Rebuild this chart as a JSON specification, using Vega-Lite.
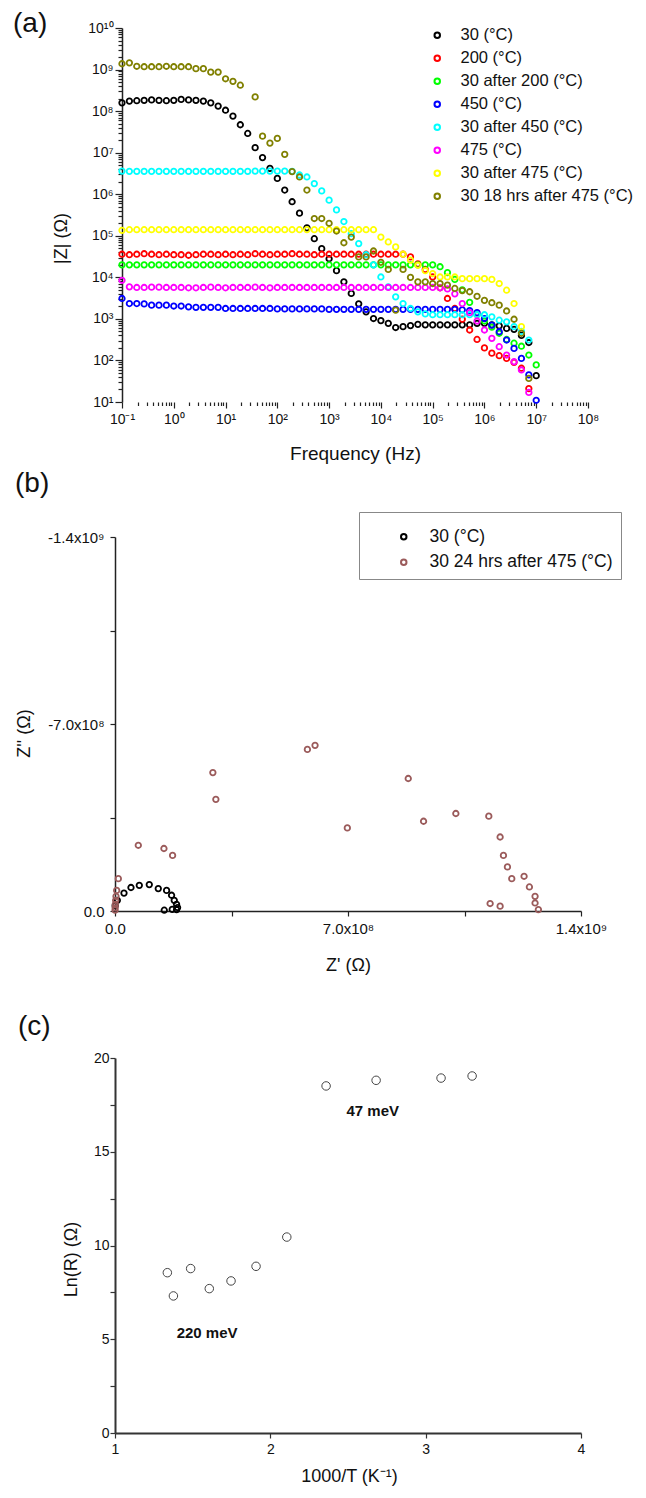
{
"$schema": "https://vega.github.io/schema/vega-lite/v6.json",
"background": "white",
"padding": {"left": 13, "top": 10, "right": 10, "bottom": 10},
"bounds": "flush",
"spacing": 0,
"config": {
  "view": {"stroke": null},
  "font": "Liberation Sans",
  "axis": {"grid": false, "domainColor": "#222", "tickColor": "#222", "labelColor": "#111", "titleColor": "#111", "labelFont": "Liberation Sans", "titleFont": "Liberation Sans", "titleFontWeight": "normal", "labelOverlap": false, "labelFlush": false, "domainWidth": 1.5, "tickWidth": 1.2}
},
"resolve": {"scale": {"color": "independent", "x": "independent", "y": "independent"}},
"datasets": {
"bode": [
{"f":0.1,"s30":1.58e8,"s200":3.6e4,"s30a200":2.0e4,"s450":3100,"s30a450":3.6e6,"s475":8500,"s30a475":1.35e5,"s30h18":1.38e9},
{"f":0.139,"s30":1.74e8,"s200":3.5e4,"s30a200":2.0e4,"s450":2340,"s30a450":3.55e6,"s475":5900,"s30a475":1.4e5,"s30h18":1.45e9},
{"f":0.193,"s30":1.78e8,"s200":3.6e4,"s30a200":2.0e4,"s450":2340,"s30a450":3.55e6,"s475":5700,"s30a475":1.4e5,"s30h18":1.2e9},
{"f":0.268,"s30":1.82e8,"s200":3.7e4,"s30a200":2.0e4,"s450":2290,"s30a450":3.55e6,"s475":5700,"s30a475":1.4e5,"s30h18":1.17e9},
{"f":0.373,"s30":1.86e8,"s200":3.6e4,"s30a200":2.0e4,"s450":2140,"s30a450":3.55e6,"s475":5800,"s30a475":1.4e5,"s30h18":1.17e9},
{"f":0.518,"s30":1.82e8,"s200":3.5e4,"s30a200":2.0e4,"s450":2140,"s30a450":3.55e6,"s475":5800,"s30a475":1.4e5,"s30h18":1.17e9},
{"f":0.72,"s30":1.78e8,"s200":3.6e4,"s30a200":2.0e4,"s450":2140,"s30a450":3.55e6,"s475":5700,"s30a475":1.4e5,"s30h18":1.2e9},
{"f":1,"s30":1.82e8,"s200":3.5e4,"s30a200":2.0e4,"s450":2040,"s30a450":3.55e6,"s475":5700,"s30a475":1.4e5,"s30h18":1.17e9},
{"f":1.39,"s30":1.91e8,"s200":3.5e4,"s30a200":2.0e4,"s450":2040,"s30a450":3.55e6,"s475":5700,"s30a475":1.4e5,"s30h18":1.17e9},
{"f":1.93,"s30":1.86e8,"s200":3.4e4,"s30a200":2.0e4,"s450":1950,"s30a450":3.55e6,"s475":5600,"s30a475":1.4e5,"s30h18":1.17e9},
{"f":2.68,"s30":1.82e8,"s200":3.5e4,"s30a200":2.0e4,"s450":1900,"s30a450":3.55e6,"s475":5600,"s30a475":1.4e5,"s30h18":1.05e9},
{"f":3.73,"s30":1.74e8,"s200":3.6e4,"s30a200":2.0e4,"s450":1900,"s30a450":3.55e6,"s475":5700,"s30a475":1.4e5,"s30h18":1.05e9},
{"f":5.18,"s30":1.58e8,"s200":3.6e4,"s30a200":2.0e4,"s450":1900,"s30a450":3.55e6,"s475":5800,"s30a475":1.4e5,"s30h18":8.7e8},
{"f":7.2,"s30":1.32e8,"s200":3.5e4,"s30a200":2.0e4,"s450":1900,"s30a450":3.55e6,"s475":5700,"s30a475":1.4e5,"s30h18":8.7e8},
{"f":10,"s30":1.05e8,"s200":3.6e4,"s30a200":2.0e4,"s450":1780,"s30a450":3.55e6,"s475":5600,"s30a475":1.4e5,"s30h18":6.0e8},
{"f":13.9,"s30":7.6e7,"s200":3.5e4,"s30a200":2.0e4,"s450":1780,"s30a450":3.55e6,"s475":5700,"s30a475":1.4e5,"s30h18":5.2e8},
{"f":19.3,"s30":4.7e7,"s200":3.6e4,"s30a200":2.0e4,"s450":1780,"s30a450":3.55e6,"s475":5700,"s30a475":1.4e5,"s30h18":4.2e8},
{"f":26.8,"s30":2.9e7,"s200":3.5e4,"s30a200":2.0e4,"s450":1780,"s30a450":3.55e6,"s475":5700,"s30a475":1.4e5,"s30h18":null},
{"f":37.3,"s30":1.32e7,"s200":3.7e4,"s30a200":2.0e4,"s450":1780,"s30a450":3.6e6,"s475":5800,"s30a475":1.4e5,"s30h18":2.2e8},
{"f":51.8,"s30":7.6e6,"s200":3.6e4,"s30a200":2.0e4,"s450":1780,"s30a450":3.6e6,"s475":5700,"s30a475":1.4e5,"s30h18":2.5e7},
{"f":72,"s30":4.2e6,"s200":3.5e4,"s30a200":2.0e4,"s450":1780,"s30a450":3.6e6,"s475":5600,"s30a475":1.4e5,"s30h18":1.7e7},
{"f":100,"s30":2.4e6,"s200":3.6e4,"s30a200":2.0e4,"s450":1740,"s30a450":3.6e6,"s475":5700,"s30a475":1.4e5,"s30h18":2.2e7},
{"f":139,"s30":1.26e6,"s200":3.6e4,"s30a200":2.0e4,"s450":1740,"s30a450":3.6e6,"s475":5700,"s30a475":1.4e5,"s30h18":9.1e6},
{"f":193,"s30":6.6e5,"s200":3.7e4,"s30a200":2.0e4,"s450":1740,"s30a450":3.55e6,"s475":5700,"s30a475":1.4e5,"s30h18":3.5e6},
{"f":268,"s30":3.5e5,"s200":3.6e4,"s30a200":2.0e4,"s450":1740,"s30a450":2.9e6,"s475":5700,"s30a475":1.4e5,"s30h18":2.6e6},
{"f":373,"s30":1.55e5,"s200":3.6e4,"s30a200":2.0e4,"s450":1740,"s30a450":2.6e6,"s475":5700,"s30a475":1.4e5,"s30h18":1.26e6},
{"f":518,"s30":8.5e4,"s200":3.5e4,"s30a200":2.0e4,"s450":1740,"s30a450":1.8e6,"s475":5700,"s30a475":1.4e5,"s30h18":2.6e5},
{"f":720,"s30":4.9e4,"s200":3.6e4,"s30a200":2.0e4,"s450":1740,"s30a450":1.2e6,"s475":5700,"s30a475":1.4e5,"s30h18":2.6e5},
{"f":1000,"s30":2.8e4,"s200":3.6e4,"s30a200":2.0e4,"s450":1700,"s30a450":7.2e5,"s475":5700,"s30a475":1.4e5,"s30h18":2.0e5},
{"f":1390,"s30":1.45e4,"s200":3.6e4,"s30a200":2.0e4,"s450":1700,"s30a450":4.2e5,"s475":5700,"s30a475":1.4e5,"s30h18":1.3e5},
{"f":1930,"s30":7800,"s200":3.6e4,"s30a200":2.0e4,"s450":1700,"s30a450":2.2e5,"s475":5700,"s30a475":1.4e5,"s30h18":6.8e4},
{"f":2680,"s30":4100,"s200":3.6e4,"s30a200":2.0e4,"s450":1700,"s30a450":1.12e5,"s475":5700,"s30a475":1.4e5,"s30h18":9.3e4},
{"f":3730,"s30":2300,"s200":3.6e4,"s30a200":2.0e4,"s450":1700,"s30a450":6.5e4,"s475":5700,"s30a475":1.4e5,"s30h18":3.1e4},
{"f":5180,"s30":1480,"s200":3.6e4,"s30a200":2.0e4,"s450":1700,"s30a450":3.5e4,"s475":5700,"s30a475":1.4e5,"s30h18":3.1e4},
{"f":7200,"s30":1020,"s200":3.6e4,"s30a200":2.0e4,"s450":1700,"s30a450":2.0e4,"s475":5700,"s30a475":1.4e5,"s30h18":4.3e4},
{"f":10000,"s30":910,"s200":3.6e4,"s30a200":2.0e4,"s450":1700,"s30a450":1.02e4,"s475":5700,"s30a475":9.3e4,"s30h18":2.3e4},
{"f":13900,"s30":780,"s200":3.6e4,"s30a200":2.0e4,"s450":1700,"s30a450":5900,"s475":5700,"s30a475":7.1e4,"s30h18":1.55e4},
{"f":19300,"s30":620,"s200":3.6e4,"s30a200":2.0e4,"s450":1700,"s30a450":3400,"s475":5700,"s30a475":5.4e4,"s30h18":1620},
{"f":26800,"s30":650,"s200":3.6e4,"s30a200":2.0e4,"s450":1700,"s30a450":2340,"s475":5700,"s30a475":3.6e4,"s30h18":1.55e4},
{"f":37300,"s30":690,"s200":3.1e4,"s30a200":2.0e4,"s450":1700,"s30a450":1780,"s475":5700,"s30a475":2.6e4,"s30h18":1.0e4},
{"f":51800,"s30":740,"s200":2.1e4,"s30a200":2.0e4,"s450":1700,"s30a450":1480,"s475":5700,"s30a475":1.95e4,"s30h18":7800},
{"f":72000,"s30":720,"s200":1.55e4,"s30a200":2.0e4,"s450":1700,"s30a450":1320,"s475":5700,"s30a475":1.45e4,"s30h18":7800},
{"f":100000,"s30":720,"s200":1.02e4,"s30a200":2.0e4,"s450":1700,"s30a450":1260,"s475":5700,"s30a475":1.23e4,"s30h18":7100},
{"f":139000,"s30":720,"s200":5600,"s30a200":1.8e4,"s450":1700,"s30a450":1260,"s475":5600,"s30a475":1.02e4,"s30h18":7100},
{"f":193000,"s30":720,"s200":3100,"s30a200":1.3e4,"s450":1700,"s30a450":1260,"s475":5250,"s30a475":1.02e4,"s30h18":6500},
{"f":268000,"s30":720,"s200":1780,"s30a200":8900,"s450":1700,"s30a450":1260,"s475":4000,"s30a475":1.02e4,"s30h18":5400},
{"f":373000,"s30":720,"s200":980,"s30a200":5000,"s450":1660,"s30a450":1260,"s475":2340,"s30a475":9300,"s30h18":4800},
{"f":518000,"s30":720,"s200":540,"s30a200":2500,"s450":1580,"s30a450":1260,"s475":1410,"s30a475":9300,"s30h18":4500},
{"f":720000,"s30":780,"s200":320,"s30a200":1260,"s450":1410,"s30a450":1260,"s475":890,"s30a475":9300,"s30h18":3500},
{"f":1000000,"s30":780,"s200":200,"s30a200":890,"s450":1020,"s30a450":1260,"s475":540,"s30a475":9300,"s30h18":2800},
{"f":1390000,"s30":720,"s200":150,"s30a200":630,"s450":710,"s30a450":1120,"s475":340,"s30a475":8900,"s30h18":2450},
{"f":1930000,"s30":680,"s200":130,"s30a200":450,"s450":490,"s30a450":930,"s475":214,"s30a475":7100,"s30h18":2140},
{"f":2680000,"s30":590,"s200":112,"s30a200":320,"s450":310,"s30a450":850,"s475":135,"s30a475":4900,"s30h18":1550},
{"f":3730000,"s30":560,"s200":90,"s30a200":260,"s450":195,"s30a450":650,"s475":93,"s30a475":2340,"s30h18":980},
{"f":5180000,"s30":400,"s200":65,"s30a200":220,"s450":112,"s30a450":500,"s475":59,"s30a475":650,"s30h18":450},
{"f":7200000,"s30":270,"s200":21,"s30a200":135,"s450":45,"s30a450":310,"s475":17,"s30a475":null,"s30h18":37},
{"f":10000000,"s30":43,"s200":null,"s30a200":78,"s450":11,"s30a450":null,"s475":null,"s30a475":null,"s30h18":null}
],
"nyq": [
{"s":"30 (°C)","zr":5e5,"zi":-2.0e7},
{"s":"30 (°C)","zr":7e6,"zi":-4.0e7},
{"s":"30 (°C)","zr":2.7e7,"zi":-6.7e7},
{"s":"30 (°C)","zr":4.8e7,"zi":-8.8e7},
{"s":"30 (°C)","zr":7.3e7,"zi":-9.6e7},
{"s":"30 (°C)","zr":1.03e8,"zi":-9.9e7},
{"s":"30 (°C)","zr":1.30e8,"zi":-8.4e7},
{"s":"30 (°C)","zr":1.55e8,"zi":-7.7e7},
{"s":"30 (°C)","zr":1.70e8,"zi":-5.9e7},
{"s":"30 (°C)","zr":1.78e8,"zi":-4.0e7},
{"s":"30 (°C)","zr":1.85e8,"zi":-2.5e7},
{"s":"30 (°C)","zr":1.88e8,"zi":-1.3e7},
{"s":"30 (°C)","zr":1.85e8,"zi":-5e6},
{"s":"30 (°C)","zr":1.72e8,"zi":-6e6},
{"s":"30 (°C)","zr":1.48e8,"zi":-3e6},
{"s":"30 24 hrs after 475 (°C)","zr":2e5,"zi":-3e6},
{"s":"30 24 hrs after 475 (°C)","zr":5e5,"zi":-1.2e7},
{"s":"30 24 hrs after 475 (°C)","zr":1e6,"zi":-2.5e7},
{"s":"30 24 hrs after 475 (°C)","zr":2e6,"zi":-4e7},
{"s":"30 24 hrs after 475 (°C)","zr":3e6,"zi":-5.5e7},
{"s":"30 24 hrs after 475 (°C)","zr":5e6,"zi":-7.7e7},
{"s":"30 24 hrs after 475 (°C)","zr":1.0e7,"zi":-1.21e8},
{"s":"30 24 hrs after 475 (°C)","zr":7.0e7,"zi":-2.46e8},
{"s":"30 24 hrs after 475 (°C)","zr":1.47e8,"zi":-2.34e8},
{"s":"30 24 hrs after 475 (°C)","zr":1.73e8,"zi":-2.08e8},
{"s":"30 24 hrs after 475 (°C)","zr":2.94e8,"zi":-5.18e8},
{"s":"30 24 hrs after 475 (°C)","zr":3.03e8,"zi":-4.18e8},
{"s":"30 24 hrs after 475 (°C)","zr":5.78e8,"zi":-6.05e8},
{"s":"30 24 hrs after 475 (°C)","zr":6.01e8,"zi":-6.20e8},
{"s":"30 24 hrs after 475 (°C)","zr":6.98e8,"zi":-3.11e8},
{"s":"30 24 hrs after 475 (°C)","zr":8.81e8,"zi":-4.96e8},
{"s":"30 24 hrs after 475 (°C)","zr":9.27e8,"zi":-3.36e8},
{"s":"30 24 hrs after 475 (°C)","zr":1.024e9,"zi":-3.65e8},
{"s":"30 24 hrs after 475 (°C)","zr":1.123e9,"zi":-3.55e8},
{"s":"30 24 hrs after 475 (°C)","zr":1.157e9,"zi":-2.77e8},
{"s":"30 24 hrs after 475 (°C)","zr":1.167e9,"zi":-2.08e8},
{"s":"30 24 hrs after 475 (°C)","zr":1.179e9,"zi":-1.65e8},
{"s":"30 24 hrs after 475 (°C)","zr":1.192e9,"zi":-1.21e8},
{"s":"30 24 hrs after 475 (°C)","zr":1.229e9,"zi":-1.30e8},
{"s":"30 24 hrs after 475 (°C)","zr":1.245e9,"zi":-9.0e7},
{"s":"30 24 hrs after 475 (°C)","zr":1.262e9,"zi":-5.5e7},
{"s":"30 24 hrs after 475 (°C)","zr":1.262e9,"zi":-3.0e7},
{"s":"30 24 hrs after 475 (°C)","zr":1.272e9,"zi":-5e6},
{"s":"30 24 hrs after 475 (°C)","zr":1.127e9,"zi":-2.8e7},
{"s":"30 24 hrs after 475 (°C)","zr":1.157e9,"zi":-1.8e7}
],
"arrh": [
{"invT":1.337,"lnR":8.55},{"invT":1.376,"lnR":7.31},{"invT":1.487,"lnR":8.77},{"invT":1.607,"lnR":7.70},
{"invT":1.747,"lnR":8.11},{"invT":1.908,"lnR":8.89},{"invT":2.106,"lnR":10.45},{"invT":2.359,"lnR":18.51},
{"invT":2.681,"lnR":18.81},{"invT":3.099,"lnR":18.93},{"invT":3.299,"lnR":19.04}
]
},
"vconcat": [
{
  "width": 473, "height": 374,
  "title": {"text": "(a)", "anchor": "start", "frame": "group", "fontSize": 28, "fontWeight": "normal", "baseline": "top", "offset": -17, "dx": -102, "color": "#111"},
  "data": {"name": "bode"},
  "encoding": {
    "x": {"field": "f", "type": "quantitative",
      "scale": {"type": "log", "domain": [0.0733, 1e8], "nice": false},
      "axis": {"title": "Frequency (Hz)", "titleFontSize": 19, "titleX": 240, "titleY": 42, "titleAlign": "center", "titleBaseline": "top", "domain": false, "labelFontSize": 14, "labelPadding": 4,
        "values": [0.1,0.2,0.3,0.4,0.5,0.6,0.7,0.8,0.9,1,2,3,4,5,6,7,8,9,10,20,30,40,50,60,70,80,90,100,200,300,400,500,600,700,800,900,1000,2000,3000,4000,5000,6000,7000,8000,9000,10000,20000,30000,40000,50000,60000,70000,80000,90000,100000,200000,300000,400000,500000,600000,700000,800000,900000,1000000,2000000,3000000,4000000,5000000,6000000,7000000,8000000,9000000,10000000,20000000,30000000,40000000,50000000,60000000,70000000,80000000,90000000,100000000],
        "tickSize": {"condition": {"test": "abs(log(datum.value)/LN10 - round(log(datum.value)/LN10)) < 0.01", "value": 6}, "value": 3.5},
        "labelExpr": "abs(log(datum.value)/LN10 - round(log(datum.value)/LN10)) > 0.01 ? '' : round(log(datum.value)/LN10) < 0 ? '10⁻¹' : '10' + substring('⁰¹²³⁴⁵⁶⁷⁸⁹', round(log(datum.value)/LN10), round(log(datum.value)/LN10) + 1)"}}
  },
  "layer": [
    {"mark": {"type": "point", "filled": false, "size": 30, "strokeWidth": 1.8, "opacity": 1},
     "encoding": {
       "y": {"field": "s30", "type": "quantitative",
         "scale": {"type": "log", "domain": [10, 1e10], "nice": false},
         "axis": {"title": "|Z| (Ω)", "titleFontSize": 18, "titleX": -52, "titleY": 210, "titleAngle": -90, "titleAlign": "center", "titleBaseline": "bottom", "offset": -7, "labelFontSize": 14, "labelPadding": 2,
           "values": [10,20,30,40,50,60,70,80,90,100,200,300,400,500,600,700,800,900,1000,2000,3000,4000,5000,6000,7000,8000,9000,10000,20000,30000,40000,50000,60000,70000,80000,90000,100000,200000,300000,400000,500000,600000,700000,800000,900000,1000000,2000000,3000000,4000000,5000000,6000000,7000000,8000000,9000000,10000000,20000000,30000000,40000000,50000000,60000000,70000000,80000000,90000000,100000000,200000000,300000000,400000000,500000000,600000000,700000000,800000000,900000000,1000000000,2000000000,3000000000,4000000000,5000000000,6000000000,7000000000,8000000000,9000000000,10000000000],
           "tickSize": {"condition": {"test": "abs(log(datum.value)/LN10 - round(log(datum.value)/LN10)) < 0.01", "value": 7}, "value": 4},
           "labelExpr": "abs(log(datum.value)/LN10 - round(log(datum.value)/LN10)) > 0.01 ? '' : round(log(datum.value)/LN10) == 10 ? '10¹⁰' : '10' + substring('⁰¹²³⁴⁵⁶⁷⁸⁹', round(log(datum.value)/LN10), round(log(datum.value)/LN10) + 1)"}},
       "color": {"datum": "30 (°C)", "type": "nominal",
         "scale": {"domain": ["30 (°C)", "200 (°C)", "30 after 200 (°C)", "450 (°C)", "30 after 450 (°C)", "475 (°C)", "30 after 475 (°C)", "30 18 hrs after 475 (°C)"],
                   "range": ["#000000", "#ff0000", "#00ff00", "#0000ff", "#00ffff", "#ff00ff", "#ffff00", "#808000"]},
         "legend": {"orient": "none", "legendX": 314, "legendY": -1, "title": null, "labelFontSize": 16.5, "labelLimit": 400, "labelColor": "#111", "symbolType": "circle", "symbolSize": 30, "symbolStrokeWidth": 2, "rowPadding": 6, "labelOffset": 15, "padding": 0}}
     }},
    {"mark": {"type": "point", "filled": false, "size": 30, "strokeWidth": 1.8, "opacity": 1}, "encoding": {"y": {"field": "s200", "type": "quantitative"}, "color": {"datum": "200 (°C)", "type": "nominal"}}},
    {"mark": {"type": "point", "filled": false, "size": 30, "strokeWidth": 1.8, "opacity": 1}, "encoding": {"y": {"field": "s30a200", "type": "quantitative"}, "color": {"datum": "30 after 200 (°C)", "type": "nominal"}}},
    {"mark": {"type": "point", "filled": false, "size": 30, "strokeWidth": 1.8, "opacity": 1}, "encoding": {"y": {"field": "s450", "type": "quantitative"}, "color": {"datum": "450 (°C)", "type": "nominal"}}},
    {"mark": {"type": "point", "filled": false, "size": 30, "strokeWidth": 1.8, "opacity": 1}, "encoding": {"y": {"field": "s30a450", "type": "quantitative"}, "color": {"datum": "30 after 450 (°C)", "type": "nominal"}}},
    {"mark": {"type": "point", "filled": false, "size": 30, "strokeWidth": 1.8, "opacity": 1}, "encoding": {"y": {"field": "s475", "type": "quantitative"}, "color": {"datum": "475 (°C)", "type": "nominal"}}},
    {"mark": {"type": "point", "filled": false, "size": 30, "strokeWidth": 1.8, "opacity": 1}, "encoding": {"y": {"field": "s30a475", "type": "quantitative"}, "color": {"datum": "30 after 475 (°C)", "type": "nominal"}}},
    {"mark": {"type": "point", "filled": false, "size": 30, "strokeWidth": 1.8, "opacity": 1}, "encoding": {"y": {"field": "s30h18", "type": "quantitative"}, "color": {"datum": "30 18 hrs after 475 (°C)", "type": "nominal"}}},
    {"data": {"values": [{}]}, "mark": {"type": "rule", "color": "#222", "strokeWidth": 1.5},
     "encoding": {"x": {"datum": 0.1}, "x2": {"datum": 100000000}, "y": {"datum": 10}}}
  ]
},
{"width": 466, "height": 135, "data": {"values": []}, "mark": "point"},
{
  "width": 466, "height": 374,
  "title": {"text": "(b)", "anchor": "start", "frame": "group", "fontSize": 28, "fontWeight": "normal", "baseline": "top", "offset": 14, "dx": -100, "color": "#111"},
  "data": {"name": "nyq"},
  "mark": {"type": "point", "filled": false, "size": 30, "strokeWidth": 1.8, "opacity": 1},
  "encoding": {
    "x": {"field": "zr", "type": "quantitative", "scale": {"domain": [0, 1400000000], "nice": false, "zero": false},
      "axis": {"title": "Z' (Ω)", "titleFontSize": 18, "titleX": 233, "titleY": 45, "titleAlign": "center", "titleBaseline": "top", "labelFontSize": 15, "tickSize": 5, "labelPadding": 5,
        "values": [0, 350000000, 700000000, 1050000000, 1400000000],
        "labelExpr": "datum.value == 0 ? '0.0' : datum.value == 700000000 ? '7.0x10⁸' : datum.value == 1400000000 ? '1.4x10⁹' : ''"}},
    "y": {"field": "zi", "type": "quantitative", "scale": {"domain": [-1400000000, 0], "reverse": true, "nice": false, "zero": false},
      "axis": {"title": "Z'' (Ω)", "titleFontSize": 18, "titleX": -82, "titleY": 196, "titleAngle": -90, "titleAlign": "center", "titleBaseline": "bottom", "labelFontSize": 15, "tickSize": 5, "labelPadding": 6,
        "values": [-1400000000, -1050000000, -700000000, -350000000, 0],
        "labelExpr": "datum.value == 0 ? '0.0' : datum.value == -700000000 ? '-7.0x10⁸' : datum.value == -1400000000 ? '-1.4x10⁹' : ''"}},
    "color": {"field": "s", "type": "nominal",
      "scale": {"domain": ["30 (°C)", "30 24 hrs after 475 (°C)"], "range": ["#000000", "#9b5b5b"]},
      "legend": {"orient": "none", "legendX": 244, "legendY": -25, "title": " ", "titleFontSize": 4, "titlePadding": 4, "strokeColor": "#888", "padding": 8, "labelFontSize": 17.5, "labelLimit": 400, "labelColor": "#111", "symbolType": "circle", "symbolSize": 30, "symbolStrokeWidth": 2, "rowPadding": 6.5, "labelOffset": 17, "symbolOffset": 28}}
  }
},
{"width": 466, "height": 147, "data": {"values": []}, "mark": "point"},
{
  "width": 466, "height": 375,
  "title": {"text": "(c)", "anchor": "start", "frame": "group", "fontSize": 28, "fontWeight": "normal", "baseline": "top", "offset": 10, "dx": -97, "color": "#111"},
  "layer": [
    {"data": {"name": "arrh"},
     "mark": {"type": "point", "filled": false, "size": 72, "strokeWidth": 1, "color": "#444", "opacity": 1},
     "encoding": {
       "x": {"field": "invT", "type": "quantitative", "scale": {"domain": [1, 4], "nice": false, "zero": false},
         "axis": {"title": "1000/T (K⁻¹)", "titleFontSize": 18, "titleX": 234, "titleY": 34, "titleAlign": "center", "titleBaseline": "top", "values": [1, 2, 3, 4], "format": "d", "labelFontSize": 14, "tickSize": 5, "labelPadding": 4, "domainWidth": 2, "domainColor": "#333", "tickColor": "#333"}},
       "y": {"field": "lnR", "type": "quantitative", "scale": {"domain": [0, 20], "nice": false},
         "axis": {"title": "Ln(R) (Ω)", "titleFontSize": 18, "titleX": -35, "titleY": 201, "titleAngle": -90, "titleAlign": "center", "titleBaseline": "bottom", "values": [0, 2.5, 5, 7.5, 10, 12.5, 15, 17.5, 20], "labelExpr": "datum.value % 5 == 0 ? format(datum.value, 'd') : ''", "labelFontSize": 14, "tickSize": 5, "labelPadding": 1, "domainWidth": 2, "domainColor": "#333", "tickColor": "#333"}}
     }},
    {"data": {"values": [{}]}, "mark": {"type": "text", "text": "47 meV", "fontWeight": "bold", "fontSize": 15, "align": "left", "baseline": "middle", "color": "#111"},
     "encoding": {"x": {"datum": 2.49}, "y": {"datum": 17.16}}},
    {"data": {"values": [{}]}, "mark": {"type": "text", "text": "220 meV", "fontWeight": "bold", "fontSize": 15, "align": "left", "baseline": "middle", "color": "#111"},
     "encoding": {"x": {"datum": 1.397}, "y": {"datum": 5.32}}}
  ]
}
]
}
